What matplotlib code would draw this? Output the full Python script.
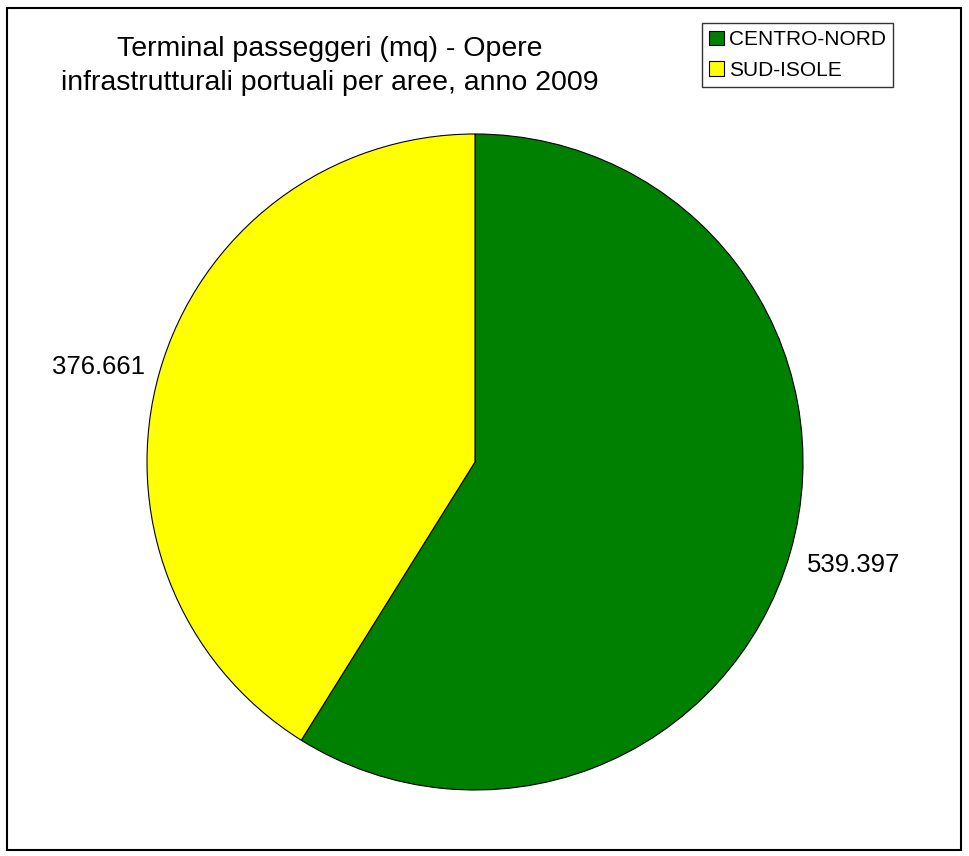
import numpy as np
import matplotlib.pyplot as plt
from matplotlib.patches import Rectangle

plt.rcParams['font.family'] = ['Liberation Sans', 'DejaVu Sans']

areas = ['CENTRO-NORD', 'SUD-ISOLE']
values = [539397, 376661]
value_labels = ['539.397', '376.661']
colors = ['#008000', '#FFFF00']

W, H = 969, 856
fig = plt.figure(figsize=(W / 100, H / 100), dpi=100)

# outer frame of the chart
fig.patches.append(Rectangle((7 / W, 6 / H), 954 / W, 842 / H, transform=fig.transFigure,
                             fill=False, edgecolor='black', linewidth=1.5))

# pie axes: centre (475, 462) px, radius 328 px
cx, cy, r = 475, 462, 328
ax = fig.add_axes([(cx - r) / W, (H - cy - r) / H, 2 * r / W, 2 * r / H])
wedges, _ = ax.pie(values, colors=colors, startangle=90, counterclock=False,
                   wedgeprops=dict(edgecolor='black', linewidth=0.8))
ax.set_xlim(-1, 1)
ax.set_ylim(-1, 1)
ax.set_aspect('equal')
ax.axis('off')

# small nudges (points) so the labels sit like the original
nudges = [(0, 4), (1, -10)]
for w, lab, nd in zip(wedges, value_labels, nudges):
    mid = np.deg2rad((w.theta1 + w.theta2) / 2)
    ax.annotate(lab, (1.2 * np.cos(mid), 1.2 * np.sin(mid)), xytext=nd,
                textcoords='offset points', ha='center', va='center',
                fontsize=18.5, annotation_clip=False)

fig.text(330 / W, 1 - 66 / H, 'Terminal passeggeri (mq) - Opere\ninfrastrutturali portuali per aree, anno 2009',
         ha='center', va='center', fontsize=20.5, linespacing=1.38)

leg = fig.legend(wedges, areas, loc='upper left', bbox_to_anchor=(702 / W, 1 - 23 / H),
                 fontsize=15, frameon=True, fancybox=False, edgecolor='black',
                 handlelength=0.7, handleheight=0.7, handletextpad=0.25,
                 borderpad=0.35, labelspacing=0.55, borderaxespad=0)
leg.get_frame().set_linewidth(1)

fig.savefig('out.png', dpi=100)
